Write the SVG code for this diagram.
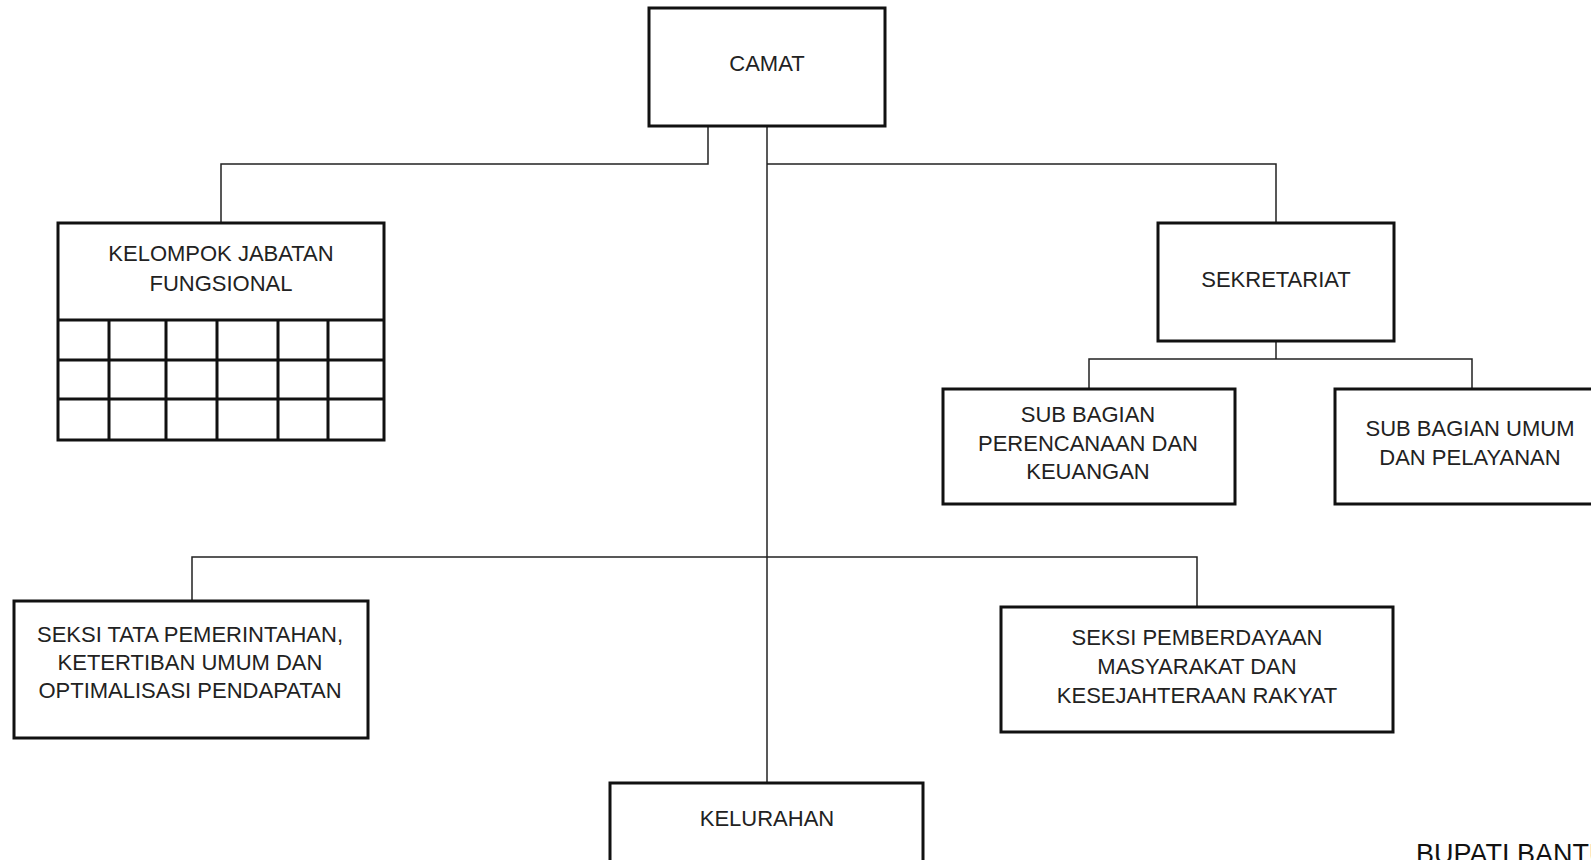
<svg xmlns="http://www.w3.org/2000/svg" width="1591" height="860" viewBox="0 0 1591 860">
<style>
.box{fill:#fff;stroke:#111;stroke-width:3}
.grid{fill:none;stroke:#111;stroke-width:3}
.conn{fill:none;stroke:#222;stroke-width:1.5}
text{font-family:"Liberation Sans",Arial,sans-serif;font-size:22px;fill:#222;text-anchor:middle}
</style>
<rect width="1591" height="860" fill="#fff"/>
<g id="connectors">
<path class="conn" d="M708 126V164H221V223"/>
<path class="conn" d="M767 126V783"/>
<path class="conn" d="M767 164H1276V223"/>
<path class="conn" d="M1276 341V359"/>
<path class="conn" d="M1089 389V359H1472V389"/>
<path class="conn" d="M192 601V557H1197V607"/>
</g>
<g id="camat">
<rect class="box" x="649" y="8" width="236" height="118"/>
<text x="767" y="71">CAMAT</text>
</g>
<g id="kelompok-jabatan-fungsional">
<rect class="box" x="58" y="223" width="326" height="217"/>
<path class="grid" d="M58 320H384M58 360H384M58 399H384M109 320V440M166 320V440M217 320V440M278 320V440M328 320V440"/>
<text x="221" y="261">KELOMPOK JABATAN</text>
<text x="221" y="291">FUNGSIONAL</text>
</g>
<g id="sekretariat">
<rect class="box" x="1158" y="223" width="236" height="118"/>
<text x="1276" y="287">SEKRETARIAT</text>
</g>
<g id="sub-bagian-perencanaan">
<rect class="box" x="943" y="389" width="292" height="115"/>
<text x="1088" y="422">SUB BAGIAN</text>
<text x="1088" y="451">PERENCANAAN DAN</text>
<text x="1088" y="479">KEUANGAN</text>
</g>
<g id="sub-bagian-umum">
<rect class="box" x="1335" y="389" width="274" height="115"/>
<text x="1470" y="436">SUB BAGIAN UMUM</text>
<text x="1470" y="465">DAN PELAYANAN</text>
</g>
<g id="seksi-tata-pemerintahan">
<rect class="box" x="14" y="601" width="354" height="137"/>
<text x="190" y="642">SEKSI TATA PEMERINTAHAN,</text>
<text x="190" y="670">KETERTIBAN UMUM DAN</text>
<text x="190" y="698">OPTIMALISASI PENDAPATAN</text>
</g>
<g id="seksi-pemberdayaan">
<rect class="box" x="1001" y="607" width="392" height="125"/>
<text x="1197" y="645">SEKSI PEMBERDAYAAN</text>
<text x="1197" y="674">MASYARAKAT DAN</text>
<text x="1197" y="703">KESEJAHTERAAN RAKYAT</text>
</g>
<g id="kelurahan">
<rect class="box" x="610" y="783" width="313" height="100"/>
<text x="767" y="826">KELURAHAN</text>
</g>
<g id="bupati">
<text x="1416" y="863" style="text-anchor:start;font-size:27px;fill:#111">BUPATI BANTUL</text>
</g>
</svg>
